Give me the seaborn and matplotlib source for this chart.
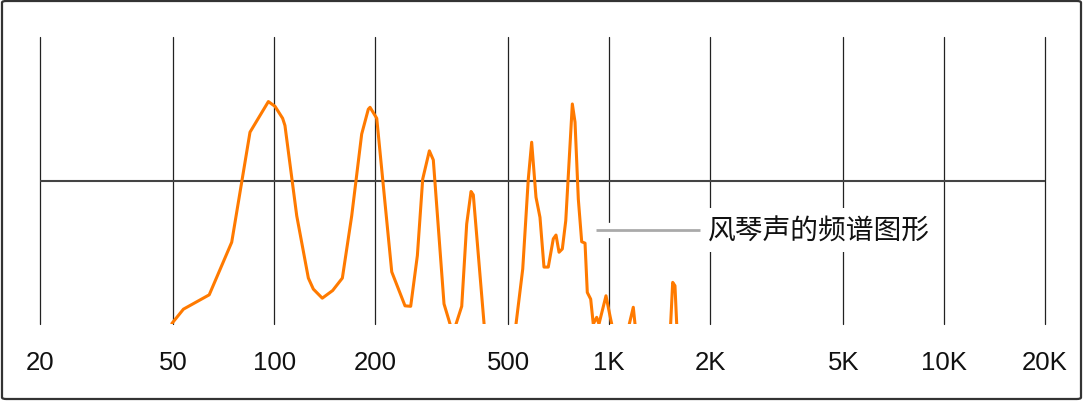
import matplotlib
matplotlib.use("Agg")
import matplotlib.pyplot as plt
import matplotlib.patheffects as pe
from matplotlib.patches import FancyBboxPatch
import seaborn as sns
import pandas as pd

# ---- data ----
freq_hz = [49.5, 53.6, 64.0, 74.7, 84.7, 96.1, 100.6, 106.0, 107.7, 116.8,
           126.5, 130.9, 139.2, 149.5, 159.8, 170.4, 182.5, 191.0, 193.3, 202.4,
           224.4, 245.8, 255.6, 267.6, 277.6, 290.6, 298.6, 321.4, 335.0, 342.0,
           349.1, 363.0, 375.6, 387.0, 393.1, 423.3, 472.0, 527.2, 552.1, 573.6,
           587.1, 604.8, 621.6, 638.9, 658.1, 681.1, 694.0, 708.6, 724.8, 742.1,
           776.4, 790.9, 809.0, 828.0, 847.2, 860.5, 880.8, 896.6, 917.8, 932.4,
           978.5, 1005.8, 1017.6, 1077.0, 1148.6, 1180.4, 1194.4, 1324.0, 1526.0, 1547.6,
           1572.0, 1590.8, 1743.0]
level_db = [-59.9, -56.9, -53.9, -42.9, -19.9, -13.5, -14.5, -17.0, -18.5, -37.4,
            -50.4, -52.7, -54.6, -53.0, -50.4, -37.4, -20.3, -15.1, -14.7, -17.0,
            -49.1, -56.2, -56.3, -45.7, -29.7, -23.8, -25.7, -55.8, -60.0, -62.0,
            -60.0, -56.3, -39.1, -32.3, -33.0, -60.0, -75.0, -60.0, -48.5, -29.7,
            -22.0, -33.5, -37.7, -48.1, -48.1, -42.2, -41.4, -45.0, -44.3, -38.4,
            -14.0, -17.8, -33.9, -42.8, -43.1, -53.4, -54.8, -60.0, -58.6, -60.0,
            -54.1, -58.3, -60.0, -70.0, -60.0, -56.5, -60.0, -70.0, -60.0, -51.3,
            -52.0, -60.0, -75.0]
tick_freqs = [20, 50, 100, 200, 500, 1000, 2000, 5000, 10000, 20000]
tick_labels = ["20", "50", "100", "200", "500", "1K", "2K", "5K", "10K", "20K"]
annotation_text = "风琴声的频谱图形"

df = pd.DataFrame({"freq": freq_hz, "level": level_db})

sns.set_style("white")
plt.rcParams["font.family"] = ["Liberation Sans", "DejaVu Sans"]

fig = plt.figure(figsize=(10.83, 4.02), dpi=100)
ax = fig.add_axes([40 / 1083, 1 - 325 / 402, 1005 / 1083, 287 / 402])

for f in tick_freqs:
    ax.axvline(f, color="#222222", lw=0.9, zorder=1, clip_on=False)
ax.axhline(-30, color="#444444", lw=1.5, zorder=1)

sns.lineplot(data=df, x="freq", y="level", ax=ax, color="#FF7A00",
             lw=2.2, zorder=3, sort=False)

ax.set_xscale("log")
ax.set_xlim(20, 20000)
ax.set_ylim(-60, 0)
ax.minorticks_off()
ax.set_xticks(tick_freqs)
ax.set_xticklabels(tick_labels, fontsize=18.5, color="#111111")
ax.set_yticks([])
ax.tick_params(axis="x", length=0, pad=19)
ax.set_xlabel("")
ax.set_ylabel("")
for s in ax.spines.values():
    s.set_visible(False)

# annotation leader line + label
ax.plot([913, 1868], [-40.4, -40.4], color="#AAAAAA", lw=2.0, zorder=4,
        solid_capstyle="butt",
        path_effects=[pe.Stroke(linewidth=11, foreground="white"), pe.Normal()])
ax.text(1972, -40.4, annotation_text, fontsize=20, va="center", ha="left",
        family=["Noto Sans CJK SC", "DejaVu Sans"], color="#111111", zorder=5,
        bbox=dict(boxstyle="square,pad=0.25", fc="white", ec="none"))

# outer rounded frame
frame = FancyBboxPatch((2 / 1083, 2 / 402), 1079 / 1083, 398 / 402,
                       boxstyle="round,pad=0,rounding_size=0.004",
                       transform=fig.transFigure, fill=False,
                       ec="#333333", lw=1.6)
fig.patches.append(frame)

fig.savefig("out.png", dpi=100)
